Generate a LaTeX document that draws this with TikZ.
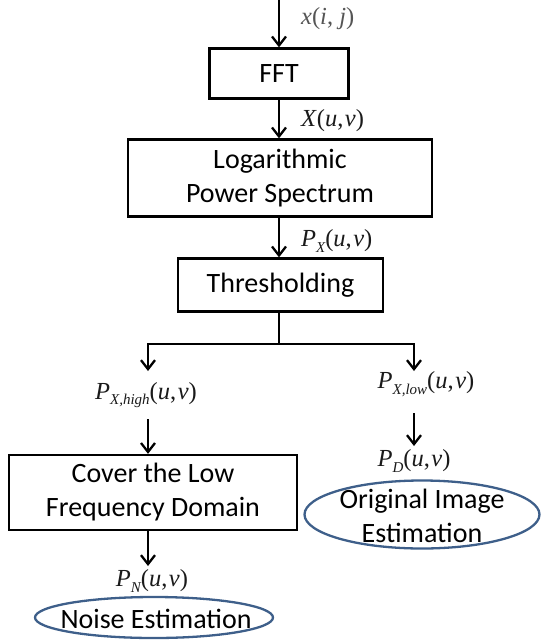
\documentclass[tikz,border=0pt]{standalone}
\usepackage{fontspec}
\setmainfont{Carlito}
\newfontfamily\mathlab{Liberation Serif}
\usetikzlibrary{arrows.meta,shapes.geometric}
\definecolor{ellblue}{HTML}{3E5F8A}
\definecolor{labgray}{HTML}{1A1A1A}
\definecolor{labgrayx}{HTML}{555555}
\newcommand\vi[1]{\textit{#1}\/}
\newcommand\sbs[1]{\raisebox{-5.5pt}{\fontsize{15}{15}\selectfont\itshape #1}}
\newcommand\uv{(\vi{u},\hspace{1.5pt}\vi{v})}
\tikzset{
  procbox/.style={draw=black, line width=2.3pt, align=center, font=\fontsize{28}{34}\selectfont, inner sep=0pt},
  estell/.style={draw=ellblue, ellipse, line width=2.3pt, inner sep=0pt},
  flow/.style={line width=2.3pt, -{Straight Barb[length=9pt,width=14pt,line width=2.3pt]}},
  plain/.style={line width=2.3pt},
  etext/.style={align=center, font=\fontsize{28}{34}\selectfont, inner sep=0pt},
  mlab/.style={text=labgray, font=\mathlab\fontsize{24.5}{27}\selectfont, inner sep=0pt}
}
\begin{document}
\begin{tikzpicture}[x=1pt,y=-1pt]
\useasboundingbox (0,0) rectangle (541,641);
% boxes
\node[procbox, minimum width=139pt, minimum height=50pt] (fft) at (279,73.5) {FFT};
\node[procbox, minimum width=304pt, minimum height=77pt] (log) at (280,178) {Logarithmic\\Power Spectrum};
\node[procbox, minimum width=205pt, minimum height=53pt] (thr) at (280.5,285) {Thresholding};
\node[procbox, minimum width=288pt, minimum height=75pt] (cov) at (153,492.5) {Cover the Low\\Frequency Domain};
\node[estell, minimum width=238pt, minimum height=41pt] (noise) at (154,617.5) {};
\node[etext] (noiset) at (156,619) {Noise Estimation};
\node[estell, minimum width=235pt, minimum height=68pt] (orig) at (422,514.5) {};
\node[etext] (origt) at (422,516) {Original Image\\Estimation};
% labels
\node[mlab, text=labgrayx, anchor=west] (lx) at (301,19) {\vi{x}(\vi{i}, \vi{j})};
\node[mlab, anchor=west] (lX) at (301,121) {\vi{X}\uv};
\node[mlab, anchor=west] (lP) at (301,241) {\vi{P}\sbs{X}\uv};
\node[mlab] (lhigh) at (146,395) {\vi{P}\sbs{X,high}\uv};
\node[mlab] (llow) at (426,384) {\vi{P}\sbs{X,low}\uv};
\node[mlab] (lD) at (414,461) {\vi{P}\sbs{D}\uv};
\node[mlab] (lN) at (152,581) {\vi{P}\sbs{N}\uv};
% coordinates
\coordinate (top) at (279,0);
\coordinate (split) at (279,344);
\coordinate (sl) at (148,344);
\coordinate (sr) at (414,344);
\coordinate (hl) at (148,371);
\coordinate (hr) at (414,371);
\coordinate (ah) at (148,419);
\coordinate (al) at (414,413);
\coordinate (adl) at (414,446);
\coordinate (an) at (148,566);
% connectors
\draw[flow] (top) -- (fft.north);
\draw[flow] (fft.south) -- (fft.south |- log.north);
\draw[flow] (fft.south |- log.south) -- (fft.south |- thr.north);
\draw[plain] (fft.south |- thr.south) -- (split);
\draw[plain, line cap=rect] (sl) -- (sr);
\draw[flow] (sl) -- (hl);
\draw[flow] (sr) -- (hr);
\draw[flow] (ah) -- (ah |- cov.north);
\draw[flow] (ah |- cov.south) -- (an);
\draw[flow] (al) -- (adl);
\end{tikzpicture}
\end{document}
